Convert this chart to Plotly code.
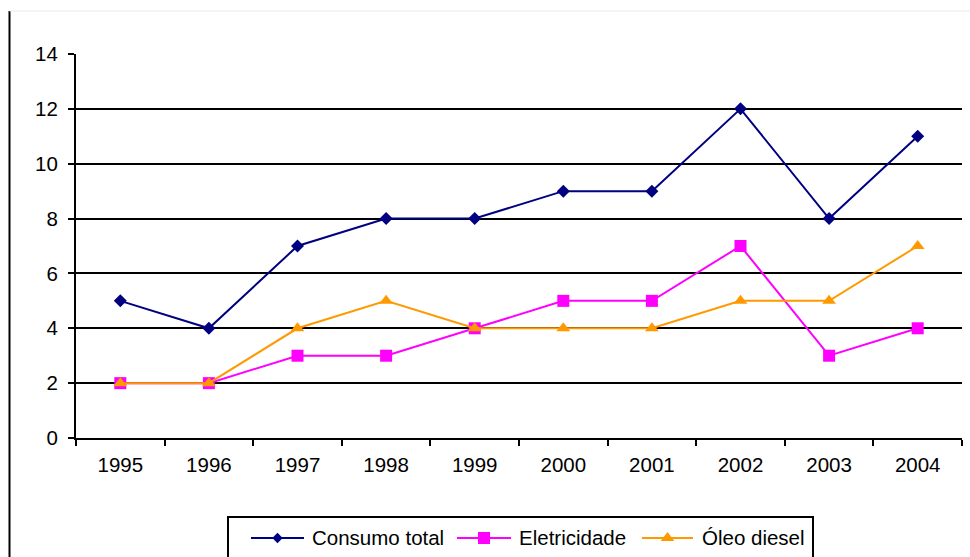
import plotly.graph_objects as go

years = ["1995", "1996", "1997", "1998", "1999", "2000", "2001", "2002", "2003", "2004"]
consumo_total = [5, 4, 7, 8, 8, 9, 9, 12, 8, 11]
eletricidade = [2, 2, 3, 3, 4, 5, 5, 7, 3, 4]
oleo_diesel = [2, 2, 4, 5, 4, 4, 4, 5, 5, 7]
y_ticks = [0, 2, 4, 6, 8, 10, 12, 14]

series_names = ["Consumo total", "Eletricidade", "Óleo diesel"]
series_values = [consumo_total, eletricidade, oleo_diesel]
series_colors = ["#000080", "#FF00FF", "#FF9900"]
series_symbols = ["diamond", "square", "triangle-up"]
plot_marker_sizes = [10, 12, 12]
key_marker_sizes = [8, 12, 12]

W, H = 970, 557
FONT = "Liberation Sans, Arial, sans-serif"
FS = 20.5

# plot area in pixels
PL, PR, PT, PB = 76, 962, 54, 438

fig = go.Figure()

for name, vals, col, sym, ms in zip(series_names, series_values, series_colors,
                                     series_symbols, plot_marker_sizes):
    fig.add_trace(go.Scatter(
        x=years, y=vals, name=name, mode="lines+markers",
        line=dict(color=col, width=2),
        marker=dict(symbol=sym, size=ms, color=col),
        showlegend=False, xaxis="x", yaxis="y",
    ))

# key box below the chart, laid out on a pixel-unit overlay axis pair
key_y = 538
key_items = [(251, 304, 310), (457, 511, 517), (642, 693, 700)]
for (x0, x1, tx), name, col, sym, ms in zip(key_items, series_names, series_colors,
                                            series_symbols, key_marker_sizes):
    fig.add_trace(go.Scatter(
        x=[x0, x1], y=[key_y, key_y], mode="lines",
        line=dict(color=col, width=2), showlegend=False, hoverinfo="skip",
        xaxis="x2", yaxis="y2",
    ))
    fig.add_trace(go.Scatter(
        x=[(x0 + x1) / 2], y=[key_y], mode="markers",
        marker=dict(symbol=sym, size=ms, color=col), showlegend=False,
        hoverinfo="skip", xaxis="x2", yaxis="y2",
    ))
    fig.add_annotation(
        x=tx, y=key_y - 1, xref="x2", yref="y2", text=name, showarrow=False,
        xanchor="left", yanchor="middle", font=dict(family=FONT, size=FS, color="black"),
    )

fig.add_shape(type="rect", xref="x2", yref="y2", x0=228, x1=813, y0=517, y1=575,
              line=dict(color="black", width=2), fillcolor="rgba(0,0,0,0)", layer="below")

# chart-area frame: left edge and faint top edge
fig.add_shape(type="line", xref="x2", yref="y2", x0=9.5, x1=9.5, y0=11, y1=560,
              line=dict(color="black", width=2))
fig.add_shape(type="line", xref="x2", yref="y2", x0=9.5, x1=975, y0=11, y1=11,
              line=dict(color="#e8e8e8", width=1))

fig.update_layout(
    width=W, height=H,
    margin=dict(l=0, r=0, t=0, b=0, autoexpand=False),
    paper_bgcolor="white", plot_bgcolor="rgba(0,0,0,0)",
    font=dict(family=FONT, size=FS, color="black"),
    showlegend=False,
    xaxis=dict(
        domain=[PL / W, PR / W], anchor="y", automargin=False,
        type="category", range=[-0.5, 9.5], tickson="boundaries",
        showgrid=False, showline=True, linecolor="black", linewidth=2,
        ticks="outside", ticklen=6, tickwidth=2, tickcolor="black",
        ticklabelstandoff=7, tickfont=dict(size=FS), fixedrange=True,
    ),
    yaxis=dict(
        domain=[(H - PB) / H, (H - PT) / H], anchor="x", automargin=False,
        range=[0, 14], tickvals=y_ticks,
        showgrid=True, gridcolor="black", gridwidth=2,
        showline=True, linecolor="black", linewidth=2,
        ticks="outside", ticklen=6, tickwidth=2, tickcolor="black",
        ticklabelstandoff=6, tickfont=dict(size=FS), zeroline=False, fixedrange=True,
    ),
    xaxis2=dict(domain=[0, 1], anchor="y2", range=[0, W], visible=False,
                automargin=False, fixedrange=True),
    yaxis2=dict(domain=[0, 1], anchor="x2", range=[H, 0], visible=False,
                automargin=False, fixedrange=True),
)

fig.write_html("out.html")
